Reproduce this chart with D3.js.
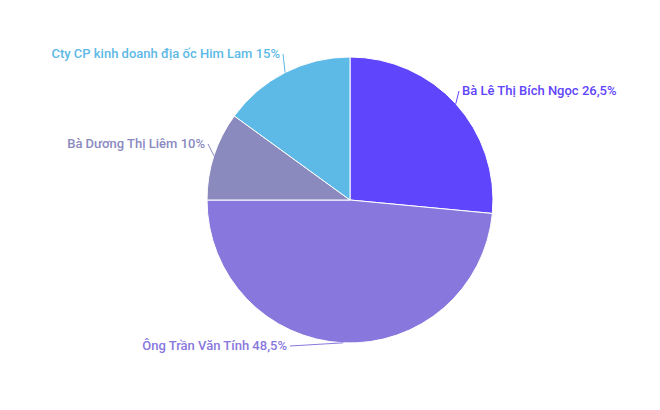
<!DOCTYPE html>
<html><head><meta charset="utf-8">
<script src="https://cdn.jsdelivr.net/npm/d3@7"></script>
<style>body{margin:0;background:#fff}</style></head>
<body><svg id="c" width="660" height="410"></svg>
<script>
const labels = ["Bà Lê Thị Bích Ngọc", "Ông Trần Văn Tính", "Bà Dương Thị Liêm", "Cty CP kinh doanh địa ốc Him Lam"];
const values = [26.5, 48.5, 10, 15];
const valueText = ["26,5%", "48,5%", "10%", "15%"];
const colors = ["#5f45fb", "#8878dd", "#8b8abf", "#5db9e6"];
const labelColors = ["#5f45fb", "#8878dd", "#8b8abf", "#5db9e6"];
const labelPos = [[462, 95, "start"], [287, 350, "end"], [205, 148, "end"], [280, 58, "end"]];

const svg = d3.select("#c");
const cx = 350, cy = 200, r = 143;
const g = svg.append("g").attr("transform", `translate(${cx},${cy})`);
const pie = d3.pie().sort(null).value(d => d)(values);
const arc = d3.arc().innerRadius(0).outerRadius(r);
g.selectAll("path").data(pie).enter().append("path")
  .attr("d", arc).attr("fill", (d, i) => colors[i]).attr("stroke", "#fff").attr("stroke-width", 1);
pie.forEach((d, i) => {
  const a = (d.startAngle + d.endAngle) / 2;
  const px = Math.sin(a) * r, py = -Math.cos(a) * r;
  const lp = labelPos[i];
  const lx = lp[0] - cx + (lp[2] === "start" ? -3 : 3), ly = lp[1] - cy - 4;
  g.append("path").attr("d", `M${px},${py}L${lx},${ly}`).attr("fill", "none")
    .attr("stroke", labelColors[i]).attr("stroke-width", 1);
  svg.append("text").attr("x", lp[0]).attr("y", lp[1]).attr("text-anchor", lp[2])
    .attr("fill", labelColors[i]).style("font", "500 13px Roboto")
    .text(labels[i] + " " + valueText[i]);
});
</script></body></html>
